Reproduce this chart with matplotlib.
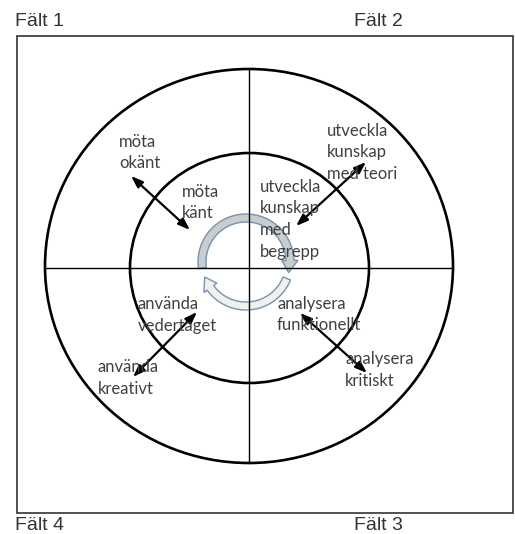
import numpy as np
import matplotlib
matplotlib.use("Agg")
import matplotlib.pyplot as plt
from matplotlib.patches import Ellipse, Rectangle, Polygon

# ---- content ----
field_labels = ["Fält 1", "Fält 2", "Fält 4", "Fält 3"]
field_pos = [(15, 13), (354, 13), (15, 517), (354, 517)]

inner_texts = [
    ["möta", "okänt"],
    ["möta", "känt"],
    ["utveckla", "kunskap", "med teori"],
    ["utveckla", "kunskap", "med", "begrepp"],
    ["använda", "vedertaget"],
    ["använda", "kreativt"],
    ["analysera", "funktionellt"],
    ["analysera", "kritiskt"],
]
inner_pos = [(119, 147), (182, 197), (327, 136), (260, 192),
             (138, 309), (98, 372), (277, 309), (345, 364)]
line_step = 21.5

arrows = [((131, 176), (190, 230)),
          ((366, 162), (296, 226)),
          ((197, 312), (133, 377)),
          ((300, 313), (367, 373))]

W, H = 515, 534
fig = plt.figure(figsize=(W / 100, H / 100), dpi=100)
ax = fig.add_axes([0, 0, 1, 1])
ax.set_xlim(0, W)
ax.set_ylim(H, 0)
ax.axis("off")

# box
ax.add_patch(Rectangle((17, 36), 495.5, 477, fill=False, ec="#333333", lw=1.2))
# circles
ax.add_patch(Ellipse((249, 266), 408, 394, fill=False, ec="black", lw=1.9))
ax.add_patch(Ellipse((249.5, 268), 239, 230, fill=False, ec="black", lw=1.9))
# cross
ax.plot([45, 453], [268, 268], color="black", lw=1.0)
ax.plot([249, 249], [69, 463], color="black", lw=1.0)

# circular arrows
cx, cy, r_out, r_in = 246, 262, 48, 40


def ring_arrow(t0, t1, head_deg, fc):
    sgn = np.sign(t1 - t0)
    tb = t1 - sgn * head_deg
    ts = np.radians(np.linspace(t0, tb, 60))
    outer = np.c_[cx + r_out * np.cos(ts), cy - r_out * np.sin(ts)]
    inner = np.c_[cx + r_in * np.cos(ts[::-1]), cy - r_in * np.sin(ts[::-1])]
    tbr, t1r = np.radians(tb), np.radians(t1)
    rm = (r_out + r_in) / 2
    head = np.array([
        [cx + (r_out + 4) * np.cos(tbr), cy - (r_out + 4) * np.sin(tbr)],
        [cx + rm * np.cos(t1r), cy - rm * np.sin(t1r)],
        [cx + (r_in - 4) * np.cos(tbr), cy - (r_in - 4) * np.sin(tbr)],
    ])
    pts = np.vstack([outer, head, inner])
    ax.add_patch(Polygon(pts, closed=True, fc=fc, ec="#7692b2", lw=1.0))


ring_arrow(-22, -160, 16, "#eff1ea")
ring_arrow(188, -14, 16, "#c9cdcd")

# arrows
for (p, q) in arrows:
    ax.annotate("", xy=q, xytext=p,
                arrowprops=dict(arrowstyle="<|-|>,head_length=0.7,head_width=0.25",
                                color="black", lw=1.6, shrinkA=0, shrinkB=0))

# field labels
for lab, (x, y) in zip(field_labels, field_pos):
    ax.text(x, y, lab, family="Liberation Sans", fontsize=14, color="#333333",
            ha="left", va="top")

# inner texts
for lines, (x, y) in zip(inner_texts, inner_pos):
    for i, ln in enumerate(lines):
        ax.text(x, y + i * line_step, ln, family="Lato", fontsize=12,
                color="#404040", ha="left", va="baseline")

fig.savefig("out.png", dpi=100)
